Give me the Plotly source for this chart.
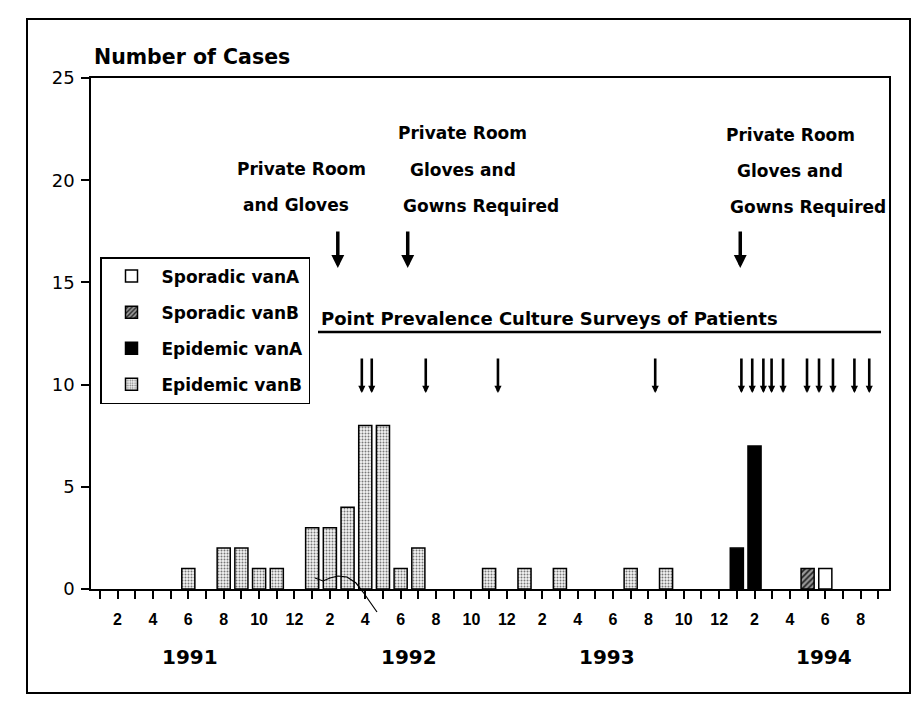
import plotly.graph_objects as go
import calendar

# ---------------- data ----------------
epi_vanB_months = ["1991-06", "1991-08", "1991-09", "1991-10", "1991-11",
                   "1992-01", "1992-02", "1992-03", "1992-04", "1992-05", "1992-06", "1992-07",
                   "1992-11", "1993-01", "1993-03", "1993-07", "1993-09"]
epi_vanB_cases = [1, 2, 2, 1, 1, 3, 3, 4, 8, 8, 1, 2, 1, 1, 1, 1, 1]

epi_vanA_months = ["1994-01", "1994-02"]
epi_vanA_cases = [2, 7]

spor_vanB_months = ["1994-05"]
spor_vanB_cases = [1]

spor_vanA_months = ["1994-06"]
spor_vanA_cases = [1]

survey_dates = ["1992-03-26", "1992-04-12", "1992-07-14", "1992-11-16", "1993-08-13",
                "1994-01-09", "1994-01-28", "1994-02-15", "1994-02-28", "1994-03-20",
                "1994-04-30", "1994-05-21", "1994-06-14", "1994-07-21", "1994-08-16"]
intervention_dates = ["1992-02-14", "1992-06-13", "1994-01-07"]

month_labels = ["", "2", "", "4", "", "6", "", "8", "", "10", "", "12"]
years = ["1991", "1992", "1993", "1994"]
n_months = 45  # Jan 1991 .. Sep 1994

START_YEAR = 1991


def month_index(s):
    y, m = int(s[:4]), int(s[5:7])
    return (y - START_YEAR) * 12 + (m - 1)


def date_index(s):
    y, m, d = int(s[:4]), int(s[5:7]), int(s[8:10])
    days = calendar.monthrange(y, m)[1]
    return (y - START_YEAR) * 12 + (m - 1) + (d - 1) / days


# ---------------- layout helpers (page pixel -> paper) ----------------
OFF = 8                             # page body margin
W, H = 920 - 2 * OFF, 706 - 2 * OFF  # figure size (no page overflow)
PLOT_L, PLOT_R, PLOT_T, PLOT_B = 91, 889, 78, 589   # plot area in page pixels
PW, PH = PLOT_R - PLOT_L, PLOT_B - PLOT_T
ML, MT = PLOT_L - OFF, PLOT_T - OFF
MR, MB = W - ML - PW, H - MT - PH


def px(x):
    return (x - PLOT_L) / PW


def py(y):
    return (PLOT_B - y) / PH


FONT_B = "DejaVu Sans"
BAR_W = 0.74

fig = go.Figure()

fig.add_trace(go.Bar(
    x=[month_index(m) for m in spor_vanA_months], y=spor_vanA_cases, width=BAR_W,
    name="Sporadic vanA", legendgroup="a",
    marker=dict(color="white", line=dict(color="black", width=1.5))))
fig.add_trace(go.Bar(
    x=[month_index(m) for m in spor_vanB_months], y=spor_vanB_cases, width=BAR_W,
    name="Sporadic vanB", legendgroup="b",
    marker=dict(color="#888888", line=dict(color="black", width=1.5),
                pattern=dict(shape="/", size=4, solidity=0.45, fgcolor="#222222",
                             bgcolor="#9a9a9a", fillmode="replace"))))
fig.add_trace(go.Bar(
    x=[month_index(m) for m in epi_vanA_months], y=epi_vanA_cases, width=BAR_W,
    name="Epidemic vanA", legendgroup="c",
    marker=dict(color="black", line=dict(color="black", width=1.5))))
fig.add_trace(go.Bar(
    x=[month_index(m) for m in epi_vanB_months], y=epi_vanB_cases, width=BAR_W,
    name="Epidemic vanB", legendgroup="d",
    marker=dict(color="#f0f0f0", line=dict(color="black", width=1.5),
                pattern=dict(shape=".", size=3, solidity=0.35, fgcolor="#777777",
                             bgcolor="#f4f4f4", fillmode="replace"))))

tickvals = list(range(n_months))
ticktext = [month_labels[i % 12] for i in tickvals]

annotations = []
# thick intervention arrows
for d in intervention_dates:
    annotations.append(dict(x=date_index(d), y=py(268), xref="x", yref="paper",
                            text="", showarrow=True, ax=0, ay=-38,
                            arrowhead=2, arrowsize=0.75, arrowwidth=3.5, arrowcolor="black"))
# survey arrows
for d in survey_dates:
    annotations.append(dict(x=date_index(d), y=py(393), xref="x", yref="paper",
                            text="", showarrow=True, ax=0, ay=-36,
                            arrowhead=2, arrowsize=0.55, arrowwidth=2.6, arrowcolor="black"))

texts = [
    ("Private Room", 301, 169, 17), ("and Gloves", 296, 205, 17),
    ("Private Room", 462, 133, 17), ("Gloves and", 463, 170, 17), ("Gowns Required", 481, 206, 17),
    ("Private Room", 790, 135, 17), ("Gloves and", 790, 171, 17), ("Gowns Required", 808, 207, 17),
    ("Point Prevalence Culture Surveys of Patients", 549, 318, 18),
]
for t, x, y, s in texts:
    annotations.append(dict(x=px(x), y=py(y), xref="paper", yref="paper", text=t,
                            showarrow=False, xanchor="center", yanchor="middle",
                            font=dict(family=FONT_B, size=s, color="black", weight="bold")))

annotations.append(dict(x=px(92), y=py(57), xref="paper", yref="paper", text="Number of Cases",
                        showarrow=False, xanchor="left", yanchor="middle",
                        font=dict(family=FONT_B, size=20.5, color="black", weight="bold")))

for yr, xc in zip(years, [190, 409, 607, 824]):
    annotations.append(dict(x=px(xc), y=py(657), xref="paper", yref="paper", text=yr,
                            showarrow=False, xanchor="center", yanchor="middle",
                            font=dict(family=FONT_B, size=20, color="black", weight="bold")))

# stray pen stroke visible on the scanned original (page pixels)
stroke = [(315, 578), (323, 581), (330, 578), (338, 576), (347, 577), (356, 583),
          (363, 592), (370, 602), (377, 612)]
stroke_path = "M " + " L ".join(f"{px(x):.4f},{py(y):.4f}" for x, y in stroke)

shapes = [
    # line under survey caption
    dict(type="line", xref="paper", yref="paper", x0=px(318), x1=px(881), y0=py(332), y1=py(332),
         line=dict(color="black", width=2.5)),
    # inner hand-drawn frame
    dict(type="rect", xref="paper", yref="paper", x0=px(27), x1=px(910), y0=py(19), y1=py(693),
         line=dict(color="black", width=2)),
    dict(type="path", xref="paper", yref="paper", path=stroke_path,
         line=dict(color="black", width=1.2)),
]

fig.update_layout(
    width=W, height=H,
    margin=dict(l=ML, r=MR, t=MT, b=MB, autoexpand=False),
    paper_bgcolor="white", plot_bgcolor="white",
    barmode="overlay",
    showlegend=True,
    legend=dict(x=px(100), y=py(257), xanchor="left", yanchor="top",
                bordercolor="black", borderwidth=1.5, bgcolor="white",
                font=dict(family=FONT_B, size=17, color="black", weight="bold"),
                traceorder="grouped", tracegroupgap=11, itemwidth=50),
    xaxis=dict(range=[-0.5, n_months - 0.4], tickmode="array", tickvals=tickvals, ticktext=ticktext,
               ticks="outside", ticklen=8, tickwidth=1.5, tickcolor="black",
               showline=True, linecolor="black", linewidth=1.5, mirror=True,
               showgrid=False, zeroline=False, ticklabelstandoff=7,
               tickfont=dict(family="Liberation Sans", size=16, color="black", weight="bold")),
    yaxis=dict(range=[0, 25], tickvals=[0, 5, 10, 15, 20, 25],
               ticks="outside", ticklen=8, tickwidth=1.5, tickcolor="black",
               showline=True, linecolor="black", linewidth=1.5, mirror=True,
               showgrid=False, zeroline=False, ticklabelstandoff=3,
               tickfont=dict(family="DejaVu Sans", size=18, color="black")),
    annotations=annotations,
    shapes=shapes,
)

fig.write_html("out.html")
